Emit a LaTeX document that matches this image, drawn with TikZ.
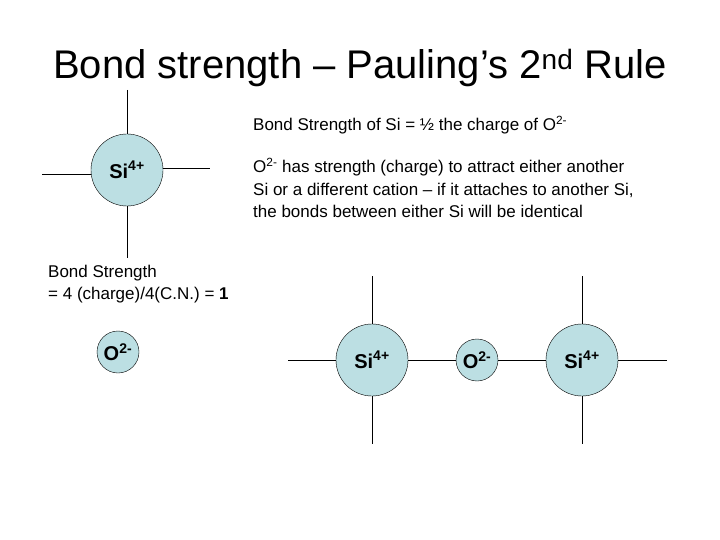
\documentclass[tikz,border=0pt]{standalone}
\usepackage{fontspec}
\setmainfont{Liberation Sans}
\definecolor{ion}{HTML}{BCDFE3}
\begin{document}
\begin{tikzpicture}[x=1pt,y=-1pt,
  big/.style={circle,draw=black,fill=ion,minimum size=72pt,inner sep=0pt,font=\fontsize{20}{22}\selectfont\bfseries},
  small/.style={circle,draw=black,fill=ion,minimum size=42pt,inner sep=0pt,font=\fontsize{20}{22}\selectfont\bfseries},
  body/.style={anchor=west,font=\fontsize{17}{22.5}\selectfont,align=left,inner sep=0pt},
  bond/.style={line width=0.6pt}]
\useasboundingbox (0,0) rectangle (720,540);
\node[font=\fontsize{40}{44}\selectfont] (title) at (360,68) {Bond strength -- Pauling's 2\textsuperscript{nd} Rule};
% top-left Si
\coordinate (t1) at (127,90); \coordinate (b1) at (127,258);
\coordinate (l1) at (42,174); \coordinate (r1) at (210,168);
\draw[bond] (t1) -- (b1); \draw[bond] (l1) -- (127,174); \draw[bond] (127,168) -- (r1);
\node[big] (si1) at (127,170) {Si\textsuperscript{4+}};
\node[small] (o1) at (118,352) {O\textsuperscript{2-}};
\node[body] (t2) at (253,125) {Bond Strength of Si = ½ the charge of O\textsuperscript{2-}};
\node[body] (t3) at (253,188) {O\textsuperscript{2-} has strength (charge) to attract either another\\Si or a different cation -- if it attaches to another Si,\\the bonds between either Si will be identical};
\node[body] (t4) at (48,284) {Bond Strength\\= 4 (charge)/4(C.N.) = \textbf{1}};
% bottom chain
\coordinate (L) at (288,360); \coordinate (R) at (667,360);
\coordinate (ta) at (372,276); \coordinate (ba) at (372,444);
\coordinate (tb) at (582,276); \coordinate (bb) at (582,444);
\draw[bond] (L) -- (R); \draw[bond] (ta) -- (ba); \draw[bond] (tb) -- (bb);
\node[big] (si2) at (372,360) {Si\textsuperscript{4+}};
\node[small] (o2) at (477,360) {O\textsuperscript{2-}};
\node[big] (si3) at (582,360) {Si\textsuperscript{4+}};
\end{tikzpicture}
\end{document}
